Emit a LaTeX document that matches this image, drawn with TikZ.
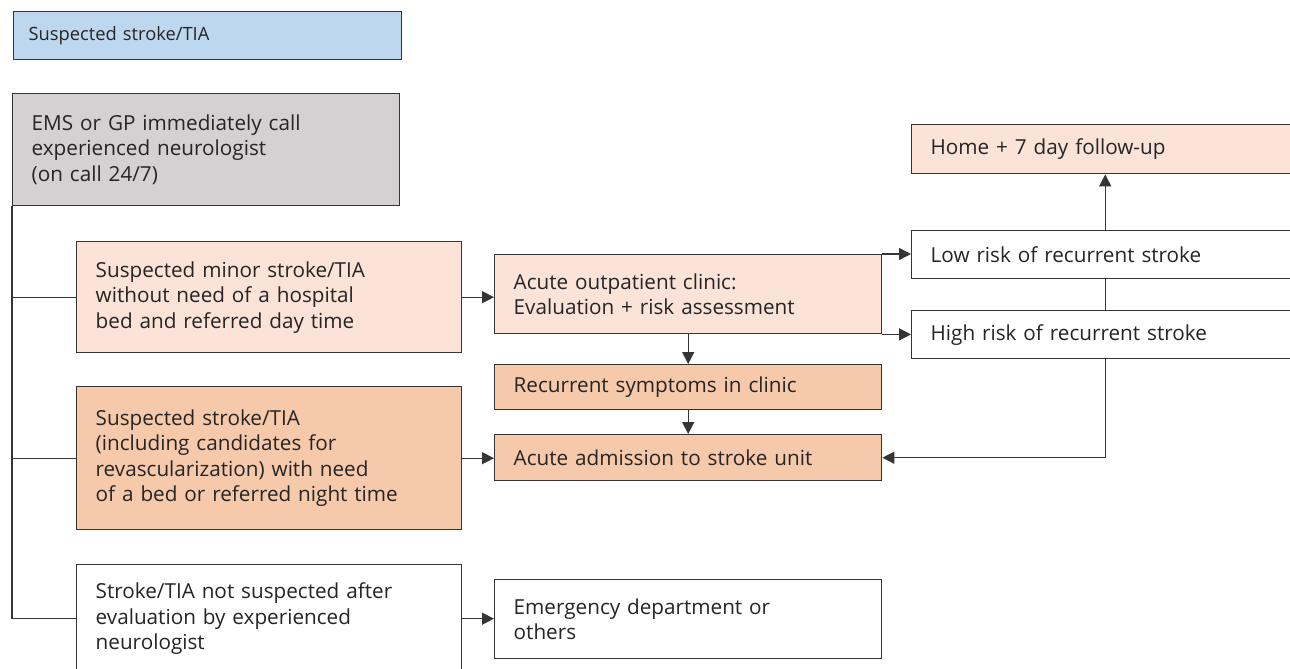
\documentclass[tikz,border=0pt]{standalone}
\usepackage{fontspec}
\setmainfont{Open Sans}
\usetikzlibrary{arrows.meta}
\definecolor{bluefill}{HTML}{BDD7EE}
\definecolor{grayfill}{HTML}{D5D1D2}
\definecolor{lightpeach}{HTML}{FBE3D8}
\definecolor{darkpeach}{HTML}{F7C9AB}
\definecolor{linegray}{HTML}{353535}
\definecolor{textgray}{HTML}{252525}
\begin{document}
\begin{tikzpicture}[x=1pt,y=-1pt,
  box/.style={draw=linegray, line width=1.4pt, anchor=north west, inner xsep=19pt, inner ysep=0pt,
    align=left, text=textgray, font=\fontsize{20.7}{25.5}\selectfont},
  conn/.style={draw=linegray, line width=1.4pt},
  arr/.style={conn, -{Triangle[length=12pt,width=12pt]}}]
\useasboundingbox (0,0) rectangle (1290,669);
\clip (0,0) rectangle (1290,669);
\fill[white] (0,0) rectangle (1290,669);

\node[box, fill=bluefill, inner xsep=15pt, text width=358pt, minimum height=48pt,
  font=\fontsize{18.3}{23}\selectfont] (b1) at (13,11) {Suspected stroke/TIA};
\node[box, fill=grayfill, text width=349pt, minimum height=112pt] (b2) at (12,93)
  {EMS or GP immediately call\\experienced neurologist\\(on call 24/7)};
\node[box, fill=lightpeach, text width=347pt, minimum height=111pt] (b3) at (76,241)
  {Suspected minor stroke/TIA\\without need of a hospital\\bed and referred day time};
\node[box, fill=darkpeach, text width=347pt, minimum height=143pt] (b4) at (76,386)
  {Suspected stroke/TIA\\(including candidates for\\revascularization) with need\\of a bed or referred night time};
\node[box, fill=white, text width=347pt, minimum height=108pt] (b5) at (76,564)
  {Stroke/TIA not suspected after\\evaluation by experienced\\neurologist};
\node[box, fill=lightpeach, text width=349pt, minimum height=79pt] (b6) at (494,254)
  {Acute outpatient clinic:\\Evaluation + risk assessment};
\node[box, fill=darkpeach, text width=349pt, minimum height=45pt] (b7) at (494,364)
  {Recurrent symptoms in clinic};
\node[box, fill=darkpeach, text width=349pt, minimum height=46pt] (b8) at (494,434)
  {Acute admission to stroke unit};
\node[box, fill=white, text width=349pt, minimum height=79pt] (b9) at (494,579)
  {Emergency department or\\others};
\node[box, fill=lightpeach, text width=349pt, minimum height=49pt] (home) at (911,124)
  {Home + 7 day follow-up};
\node[box, fill=white, text width=349pt, minimum height=48pt] (low) at (911,230)
  {Low risk of recurrent stroke};
\node[box, fill=white, text width=349pt, minimum height=48pt] (high) at (911,310)
  {High risk of recurrent stroke};

% trunk and branches
\draw[conn] (b2.south west) |- (b5.west);
\draw[conn] (b3.west) -- (b3.west -| b2.west);
\draw[conn] (b4.west) -- (b4.west -| b2.west);

% arrows
\draw[arr] (b3.east) -- (b3.east -| b6.west);
\draw[arr] (b4.east) -- (b4.east -| b8.west);
\draw[arr] (b5.east) -- (b5.east -| b9.west);
\draw[arr] (b6.south) -- (b7.north);
\draw[arr] (b7.south) -- (b8.north);
\draw[arr] (b6.north east) -- (b6.north east -| low.west);
\draw[arr] (b6.south east) -- (b6.south east -| high.west);
\draw[arr] (low.north) -- (home.south);
\draw[conn] (low.south) -- (high.north);
\draw[arr] (high.south) |- (b8.east);
\end{tikzpicture}
\end{document}
